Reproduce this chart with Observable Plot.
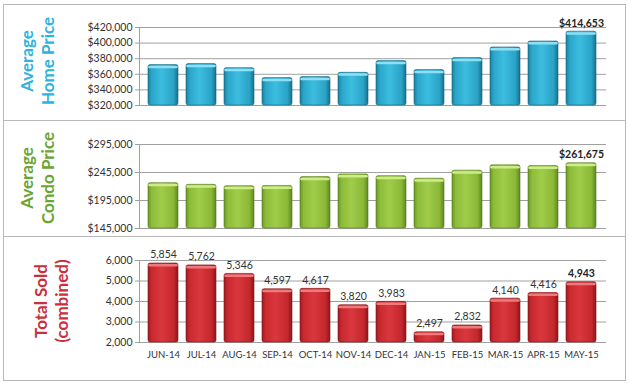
<!DOCTYPE html>
<html><head><meta charset="utf-8">
<script src="https://cdn.jsdelivr.net/npm/d3@7"></script>
<script src="https://cdn.jsdelivr.net/npm/@observablehq/plot@0.6"></script>
<style>
body{margin:0;background:#fff;font-family:Lato,"Liberation Sans",sans-serif;}
#wrap{position:relative;width:630px;height:384px;overflow:hidden;background:#fff}
.panel{position:absolute;border:1px solid #b8b8b8;box-sizing:border-box;}
.title{position:absolute;transform:rotate(-90deg);transform-origin:center;font-weight:bold;font-size:17px;line-height:21px;text-align:center;white-space:nowrap;font-family:Lato,"Liberation Sans",sans-serif}
.chart{position:absolute;left:0}
</style></head><body>
<svg width="0" height="0" style="position:absolute">
<defs>
<linearGradient id="gBlue" x1="0" x2="1" y1="0" y2="0">
<stop offset="0" stop-color="#1a7f9e"/><stop offset="0.12" stop-color="#2aa6c9"/><stop offset="0.45" stop-color="#3cbde0"/><stop offset="0.85" stop-color="#2aa3c6"/><stop offset="1" stop-color="#17708c"/>
</linearGradient>
<linearGradient id="gGreen" x1="0" x2="1" y1="0" y2="0">
<stop offset="0" stop-color="#6a9526"/><stop offset="0.12" stop-color="#8cbc39"/><stop offset="0.45" stop-color="#a0cc4a"/><stop offset="0.85" stop-color="#8ab836"/><stop offset="1" stop-color="#5e8720"/>
</linearGradient>
<linearGradient id="gRed" x1="0" x2="1" y1="0" y2="0">
<stop offset="0" stop-color="#9c1b20"/><stop offset="0.12" stop-color="#c9292f"/><stop offset="0.45" stop-color="#d8383d"/><stop offset="0.85" stop-color="#c4272d"/><stop offset="1" stop-color="#8e171c"/>
</linearGradient>
</defs>
</svg>
<div id="wrap"></div>
<script>
const months = ["JUN-14","JUL-14","AUG-14","SEP-14","OCT-14","NOV-14","DEC-14","JAN-15","FEB-15","MAR-15","APR-15","MAY-15"];
const homePrice = [371800, 373100, 367900, 355100, 356400, 361900, 376900, 365400, 380800, 394400, 402000, 414653];
const condoPrice = [226000, 223000, 220600, 221000, 236800, 241600, 238500, 233900, 248300, 257800, 256500, 261675];
const totalSold = [5854, 5762, 5346, 4597, 4617, 3820, 3983, 2497, 2832, 4140, 4416, 4943];
const homeTicks = [320000, 340000, 360000, 380000, 400000, 420000];
const condoTicks = [145000, 195000, 245000, 295000];
const soldTicks = [2000, 3000, 4000, 5000, 6000];
const titles = [["Average","Home Price"],["Average","Condo Price"],["Total Sold","(combined)"]];

const wrap = document.getElementById("wrap");
const money = d => "$" + d3.format(",")(d);
const comma = d3.format(",");

function addPanel(p) {
  const panel = document.createElement("div");
  panel.className = "panel";
  Object.assign(panel.style, {left: "3px", top: p.top + "px", width: "623px", height: p.height + "px"});
  wrap.appendChild(panel);

  const data = months.map((m, i) => ({m, v: p.values[i], last: i === months.length - 1}));
  const marks = [
    Plot.ruleY(p.ticks, {stroke: "#a0a0a0", strokeWidth: 1}),
    Plot.axisY(p.ticks, {tickFormat: p.fmt, tickSize: 4, tickPadding: 3, stroke: "#a0a0a0", fill: "#333", fontSize: 10.5, label: null}),
    Plot.frame({anchor: "left", stroke: "#a0a0a0"}),
    Plot.barY(data, {x: "m", y1: p.ticks[0], y2: "v", fill: p.grad, rx: 2, stroke: p.edge, strokeWidth: 0.6}),
    Plot.tickY(data, {x: "m", y: "v", stroke: p.cap, strokeWidth: 2.5, dy: 1.8, inset: 1.5, strokeLinecap: "round"})
  ];
  if (p.allLabels) {
    marks.push(Plot.text(data.filter(d => !d.last), {x: "m", y: "v", text: d => p.labelFmt(d.v), lineAnchor: "bottom", dy: -5, fill: "#333", fontSize: 10.5}));
  }
  marks.push(Plot.text(data.filter(d => d.last), {x: "m", y: "v", text: d => p.labelFmt(d.v), lineAnchor: "bottom", dy: -5, fill: "#222", fontSize: 10.5, fontWeight: "bold"}));
  if (p.xAxis) marks.push(Plot.axisX({tickSize: 0, tickPadding: 9, fill: "#333", fontSize: 9.5, label: null}));

  const chart = Plot.plot({
    width: 630, height: p.svgHeight,
    marginLeft: 139, marginRight: 24, marginTop: p.mt, marginBottom: p.mb,
    x: {domain: months, paddingInner: 0.2, paddingOuter: 0.1, axis: null, label: null},
    y: {domain: [p.ticks[0], p.ticks[p.ticks.length - 1]], axis: null, label: null},
    style: {fontFamily: "Lato, 'Liberation Sans', sans-serif", background: "transparent", overflow: "visible"},
    marks
  });
  chart.classList.add("chart");
  chart.style.top = p.svgTop + "px";
  wrap.appendChild(chart);

  const t = document.createElement("div");
  t.className = "title";
  t.innerHTML = p.title.map(s => `<div>${s}</div>`).join("");
  const W = 110, H = 42;
  Object.assign(t.style, {width: W + "px", height: H + "px", left: (p.cx - W / 2) + "px", top: (p.cy - H / 2) + "px", color: p.color});
  wrap.appendChild(t);
}

addPanel({top: 4, height: 117, svgTop: 0, svgHeight: 120, mt: 27, mb: 15, values: homePrice, ticks: homeTicks, fmt: money, labelFmt: money,
  grad: "url(#gBlue)", edge: "#16657e", cap: "#8fe0f4", title: titles[0], color: "#2fb3dc", cx: 37, cy: 61});
addPanel({top: 120, height: 117, svgTop: 121, svgHeight: 115, mt: 23, mb: 8, values: condoPrice, ticks: condoTicks, fmt: money, labelFmt: money,
  grad: "url(#gGreen)", edge: "#557a1c", cap: "#cfec8a", title: titles[1], color: "#6aa534", cx: 37, cy: 178});
addPanel({top: 236, height: 145, svgTop: 237, svgHeight: 143, mt: 23, mb: 38, values: totalSold, ticks: soldTicks, fmt: comma, labelFmt: comma,
  grad: "url(#gRed)", edge: "#7d1418", cap: "#ef7a7a", title: titles[2], color: "#c8303c", cx: 51, cy: 301, allLabels: true, xAxis: true});
</script>
</body></html>
